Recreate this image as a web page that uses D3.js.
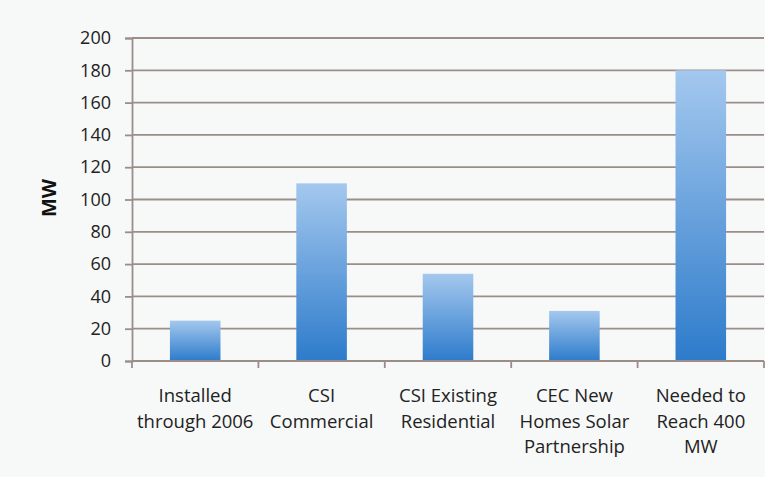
<!DOCTYPE html>
<html>
<head>
<meta charset="utf-8">
<script src="https://cdn.jsdelivr.net/npm/d3@7"></script>
<style>
  html, body { margin: 0; padding: 0; background: #f7f8f8; }
  svg { display: block; }
</style>
</head>
<body>
<svg id="chart" width="765" height="477"></svg>
<script>
const categories = [
  ["Installed", "through 2006"],
  ["CSI", "Commercial"],
  ["CSI Existing", "Residential"],
  ["CEC New", "Homes Solar", "Partnership"],
  ["Needed to", "Reach 400", "MW"]
];
const values = [25, 110, 54, 31, 180];
const yTicks = [0, 20, 40, 60, 80, 100, 120, 140, 160, 180, 200];
const yLabel = "MW";

const svg = d3.select("#chart");
const W = 765, H = 477;
const margin = { left: 132, right: 1, top: 38, bottom: 116 };
const plotW = W - margin.left - margin.right;
const plotH = H - margin.top - margin.bottom;

svg.append("rect").attr("width", W).attr("height", H).attr("fill", "#f7f8f8");

const defs = svg.append("defs");
const grad = defs.append("linearGradient").attr("id", "barGrad")
  .attr("x1", 0).attr("y1", 0).attr("x2", 0).attr("y2", 1);
grad.append("stop").attr("offset", "0%").attr("stop-color", "#a4c8ee");
grad.append("stop").attr("offset", "100%").attr("stop-color", "#2d7bcb");

const g = svg.append("g").attr("transform", `translate(${margin.left},${margin.top})`);

const x = d3.scaleBand().domain(d3.range(categories.length)).range([0, plotW]).paddingInner(0.6).paddingOuter(0.3);
const y = d3.scaleLinear().domain([0, 200]).range([plotH, 0]);

const gridColor = "#9c8d8a";
const font = "'Open Sans', sans-serif";
const textColor = "#222";

// gridlines
g.append("g").selectAll("line").data(yTicks.filter(d => d > 0)).join("line")
  .attr("x1", 0).attr("x2", plotW)
  .attr("y1", d => y(d)).attr("y2", d => y(d))
  .attr("stroke", gridColor).attr("stroke-width", 1.8);

// bars
g.append("g").selectAll("rect").data(values).join("rect")
  .attr("x", (d, i) => x(i))
  .attr("y", d => y(d))
  .attr("width", x.bandwidth())
  .attr("height", d => plotH - y(d))
  .attr("fill", "url(#barGrad)");

// y axis
const yAxis = d3.axisLeft(y).tickValues(yTicks).tickSize(7).tickPadding(14);
const ya = g.append("g").call(yAxis);
ya.select(".domain").attr("stroke", gridColor).attr("stroke-width", 1.8);
ya.selectAll(".tick line").attr("stroke", gridColor).attr("stroke-width", 1.8);
ya.selectAll("text").attr("font-family", font).attr("font-size", 18).attr("fill", textColor);

// x axis
const xEdges = d3.range(categories.length + 1).map(i => i * plotW / categories.length);
const xa = g.append("g").attr("transform", `translate(0,${plotH})`);
xa.append("line").attr("x1", 0).attr("x2", plotW).attr("y1", 0).attr("y2", 0)
  .attr("stroke", gridColor).attr("stroke-width", 1.8);
xa.selectAll(".xt").data(xEdges).join("line").attr("class", "xt")
  .attr("x1", d => d).attr("x2", d => d).attr("y1", 0).attr("y2", 7)
  .attr("stroke", gridColor).attr("stroke-width", 1.8);

const labels = xa.selectAll(".cl").data(categories).join("text").attr("class", "cl")
  .attr("text-anchor", "middle")
  .attr("font-family", font).attr("font-size", 18.5).attr("fill", textColor)
  .attr("transform", (d, i) => `translate(${x(i) + x.bandwidth() / 2},41)`);
labels.selectAll("tspan").data(d => d).join("tspan")
  .attr("x", 0).attr("y", (d, j) => j * 25.5).text(d => d);

// y label
svg.append("text")
  .attr("transform", `translate(56,198) rotate(-90)`)
  .attr("text-anchor", "middle")
  .attr("font-family", font).attr("font-size", 20).attr("font-weight", "bold")
  .attr("fill", "#111")
  .text(yLabel);
</script>
</body>
</html>
